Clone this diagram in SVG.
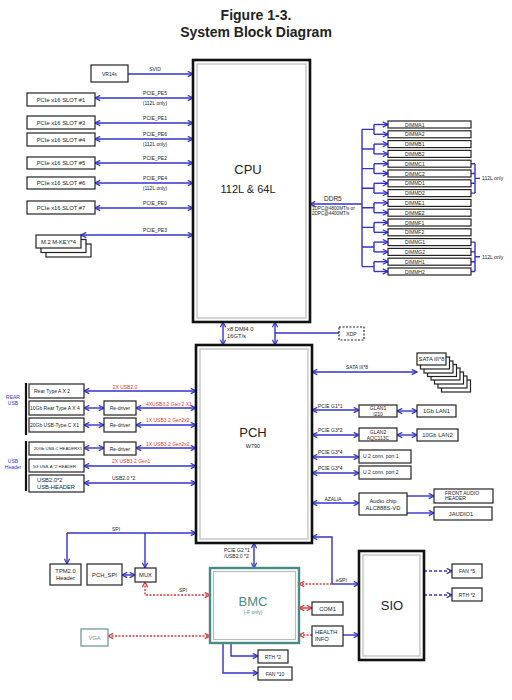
<svg xmlns="http://www.w3.org/2000/svg" width="512" height="700" viewBox="0 0 512 700">
<style>
text{font-family:"Liberation Sans",Arial,sans-serif;fill:#222}
.t{font-size:14px;font-weight:bold;text-anchor:middle}
.s{font-size:5px}
.m{font-size:5.8px}
.c{text-anchor:middle}
.r{fill:#e03535}
.bl{fill:#3333cc}
.box{fill:#fff;stroke:#222;stroke-width:1.2}
.big{fill:#fff;stroke:#111;stroke-width:2.6}
.inn{fill:none;stroke:#bbb;stroke-width:1.2}
.ln{fill:none;stroke:#3333cc;stroke-width:1.4}
.lnd{fill:none;stroke:#3333cc;stroke-width:1.4;stroke-dasharray:3 2}
.rd{fill:none;stroke:#e03535;stroke-width:1.4;stroke-dasharray:2 1.5}
.rs{fill:none;stroke:#e03535;stroke-width:1.4}
.ar{marker-end:url(#ab)}
.da{marker-start:url(#ab);marker-end:url(#ab)}
.arr{marker-end:url(#ar)}
.dar{marker-start:url(#ar);marker-end:url(#ar)}
</style>
<defs>
<marker id="ab" viewBox="0 0 8 8" refX="7" refY="4" markerWidth="7" markerHeight="7" markerUnits="userSpaceOnUse" orient="auto-start-reverse"><path d="M1,1 L7,4 L1,7" fill="none" stroke="#3333cc" stroke-width="1.4"/></marker>
<marker id="ar" viewBox="0 0 8 8" refX="7" refY="4" markerWidth="7" markerHeight="7" markerUnits="userSpaceOnUse" orient="auto-start-reverse"><path d="M1,1 L7,4 L1,7" fill="none" stroke="#e03535" stroke-width="1.4"/></marker>
</defs>
<rect width="512" height="700" fill="#fff"/>
<text class="t" x="256" y="20">Figure 1-3.</text>
<text class="t" x="256" y="37">System Block Diagram</text>

<g id="connectors">
<path class="ln ar" d="M128,74 H193"/>
<path class="ln da" d="M95,98 H193"/>
<path class="ln da" d="M95,123 H193"/>
<path class="ln da" d="M95,139 H193"/>
<path class="ln da" d="M95,163 H193"/>
<path class="ln da" d="M95,183 H193"/>
<path class="ln da" d="M95,208 H193"/>
<path class="ln da" d="M81,235 H193"/>
<path class="ln" d="M362,204 H310" marker-end="url(#ab)"/>
<path class="ln" d="M362,129.4 V266.6"/>
<path class="ln" d="M362,129.4 H374 M374,124.5 V134.3 M362,149 H374 M374,144.1 V153.9 M362,168.6 H374 M374,163.7 V173.5 M362,188.2 H374 M374,183.3 V193.1 M362,207.8 H374 M374,202.9 V212.7 M362,227.4 H374 M374,222.5 V232.3 M362,247 H374 M374,242.1 V251.9 M362,266.6 H374 M374,261.7 V271.5"/>
<path class="ln ar" d="M374,124.5 H388"/><path class="ln ar" d="M374,134.3 H388"/>
<path class="ln ar" d="M374,144.1 H388"/><path class="ln ar" d="M374,153.9 H388"/>
<path class="ln ar" d="M374,163.7 H388"/><path class="ln ar" d="M374,173.5 H388"/>
<path class="ln ar" d="M374,183.3 H388"/><path class="ln ar" d="M374,193.1 H388"/>
<path class="ln ar" d="M374,202.9 H388"/><path class="ln ar" d="M374,212.7 H388"/>
<path class="ln ar" d="M374,222.5 H388"/><path class="ln ar" d="M374,232.3 H388"/>
<path class="ln ar" d="M374,242.1 H388"/><path class="ln ar" d="M374,251.9 H388"/>
<path class="ln ar" d="M374,261.7 H388"/><path class="ln ar" d="M374,271.5 H388"/>
<path class="ln" d="M471,163.7 H475 M471,173.5 H475 M471,183.3 H475 M471,193.1 H475 M475,163.7 V193.1 M475,178.4 H480"/>
<path class="ln" d="M471,242.1 H475 M471,251.9 H475 M471,261.7 H475 M471,271.5 H475 M475,242.1 V271.5 M475,256.8 H480"/>
<path class="ln da" d="M223,322 V345"/>
<path class="ln da" d="M275,322 V345"/>
<path class="ln" d="M275,333 H339"/>
<path class="ln da" d="M84,391 H196"/>
<path class="ln da" d="M84,408 H104"/><path class="ln da" d="M136,408 H196"/>
<path class="ln da" d="M84,425 H104"/><path class="ln da" d="M136,425 H196"/>
<path class="ln da" d="M84,448 H104"/><path class="ln da" d="M136,448 H196"/>
<path class="ln da" d="M84,466 H196"/>
<path class="ln da" d="M84,483 H196"/>
<path class="ln da" d="M312,372 H417"/>
<path class="ln da" d="M312,410 H359"/><path class="ln da" d="M397,411 H417"/>
<path class="ln da" d="M312,435 H359"/><path class="ln da" d="M397,435 H417"/>
<path class="ln da" d="M312,457 H359"/>
<path class="ln da" d="M312,473 H359"/>
<path class="ln da" d="M312,503 H359"/>
<path class="ln ar" d="M407,496 H434"/>
<path class="ln ar" d="M407,513 H434"/>
<path class="ln ar" d="M67,533 H196"/>
<path class="ln ar" d="M67,533 V564"/>
<path class="ln ar" d="M145,533 V568"/>
<path class="ln da" d="M122,575 H135"/>
<path class="rd dar" d="M145,582 V595 H210"/>
<path class="rd dar" d="M108,636 H210"/>
<path class="ln da" d="M254,543 V568"/>
<path class="ln" d="M332,584 V537 H312" marker-end="url(#ab)"/>
<path class="ln ar" d="M332,584 H359"/>
<path class="rd arr" d="M332,584 H299"/>
<path class="rs dar" d="M299,608 H312"/>
<path class="rd arr" d="M312,635 H299"/>
<path class="ln ar" d="M343,635 H359"/>
<path class="ln ar" d="M231,643 V656 H258"/>
<path class="ln ar" d="M223,643 V673 H258"/>
<path class="lnd ar" d="M424,571 H452"/>
<path class="lnd ar" d="M424,595 H452"/>
<path d="M26,383 V435 M26,441 V491" stroke="#111" stroke-width="2.2"/>
</g>
<g id="connector-labels">
<text class="s c" x="155" y="71">SVID</text>
<text class="s c" x="155" y="95">PCIE_PE5</text><text class="s c" x="155" y="105">(112L only)</text>
<text class="s c" x="155" y="120">PCIE_PE1</text>
<text class="s c" x="155" y="136">PCIE_PE6</text><text class="s c" x="155" y="146">(112L only)</text>
<text class="s c" x="155" y="160">PCIE_PE2</text>
<text class="s c" x="155" y="180">PCIE_PE4</text><text class="s c" x="155" y="190">(112L only)</text>
<text class="s c" x="155" y="205">PCIE_PE0</text>
<text class="s c" x="155" y="232">PCIE_PE3</text>
<text class="m" x="324" y="201" style="font-size:6.5px">DDR5</text>
<text class="s" x="312" y="210" style="font-size:4.6px">1DPC@4800MT/s or</text>
<text class="s" x="312" y="215" style="font-size:4.6px">2DPC@4400MT/s</text>
<text class="s" x="482" y="180">112L only</text>
<text class="s" x="482" y="258.5">112L only</text>
<text class="m" x="227" y="331">x8 DMI4.0</text>
<text class="m" x="227" y="338">16GT/s</text>
<text class="s r c" x="125" y="389">2X USB2.0</text>
<text class="s r" x="146" y="406">4XUSB3.2 Gen 2 X1</text>
<text class="s r" x="146" y="422">1X USB3.2 Gen2x2</text>
<text class="s r" x="146" y="446">1X USB3.2 Gen2x2</text>
<text class="s r" x="112" y="463">2X USB3.2 Gen1</text>
<text class="s" x="112" y="480">USB2.0 *2</text>
<text class="s bl c" x="13" y="399">REAR</text><text class="s bl c" x="13" y="405">USB</text>
<text class="s bl c" x="13" y="463">USB</text><text class="s bl c" x="13" y="469">Header</text>
<text class="s c" x="357" y="369">SATA III*8</text>
<text class="s" x="318" y="408">PCIE G1*1</text>
<text class="s" x="318" y="432">PCIE G3*2</text>
<text class="s" x="318" y="454">PCIE G3*4</text>
<text class="s" x="318" y="470">PCIE G3*4</text>
<text class="s c" x="333" y="501">AZALIA</text>
<text class="s c" x="116" y="531">SPI</text>
<text class="s c" x="183" y="592">SPI</text>
<text class="s" x="224" y="552">PCIE G2 *1</text>
<text class="s" x="224" y="558">/USB2.0 *2</text>
<text class="s" x="336" y="582">eSPI</text>
</g>

<g id="cpu"><rect class="big" x="193" y="60" width="117" height="262"/><rect class="inn" x="197" y="64" width="109" height="254"/>
<text x="248" y="174" class="c" style="font-size:13px">CPU</text><text x="248" y="193" class="c" style="font-size:11px">112L &amp; 64L</text></g>
<g id="vr14s"><rect class="box" x="91" y="65" width="37" height="17"/><text class="s c" x="109.5" y="75.5">VR14s</text></g>
<g id="slot1"><rect class="box" x="27" y="93" width="68" height="13"/><text class="m c" x="61" y="101.5">PCIe x16 SLOT #1</text></g>
<g id="slot3"><rect class="box" x="27" y="116" width="68" height="13"/><text class="m c" x="61" y="124.5">PCIe x16 SLOT #3</text></g>
<g id="slot4"><rect class="box" x="27" y="133" width="68" height="13"/><text class="m c" x="61" y="141.5">PCIe x16 SLOT #4</text></g>
<g id="slot5"><rect class="box" x="27" y="157" width="68" height="12"/><text class="m c" x="61" y="165">PCIe x16 SLOT #5</text></g>
<g id="slot6"><rect class="box" x="27" y="177" width="68" height="12"/><text class="m c" x="61" y="185">PCIe x16 SLOT #6</text></g>
<g id="slot7"><rect class="box" x="27" y="201" width="68" height="13"/><text class="m c" x="61" y="209.5">PCIe x16 SLOT #7</text></g>
<g id="m2"><rect class="box" x="46" y="244" width="45" height="13"/><rect class="box" x="41" y="239.5" width="45" height="13"/><rect class="box" x="36" y="235" width="45" height="13"/><text class="m c" x="58.5" y="243.5">M.2 M-KEY*4</text></g>
<g id="dimms">
<rect class="box" x="388" y="121" width="83" height="7"/><text class="s" x="405" y="126.5">DIMMA1</text>
<rect class="box" x="388" y="130.8" width="83" height="7"/><text class="s" x="405" y="136.3">DIMMA2</text>
<rect class="box" x="388" y="140.6" width="83" height="7"/><text class="s" x="405" y="146.1">DIMMB1</text>
<rect class="box" x="388" y="150.4" width="83" height="7"/><text class="s" x="405" y="155.9">DIMMB2</text>
<rect class="box" x="388" y="160.2" width="83" height="7"/><text class="s" x="405" y="165.7">DIMMC1</text>
<rect class="box" x="388" y="170" width="83" height="7"/><text class="s" x="405" y="175.5">DIMMC2</text>
<rect class="box" x="388" y="179.8" width="83" height="7"/><text class="s" x="405" y="185.3">DIMMD1</text>
<rect class="box" x="388" y="189.6" width="83" height="7"/><text class="s" x="405" y="195.1">DIMMD2</text>
<rect class="box" x="388" y="199.4" width="83" height="7"/><text class="s" x="405" y="204.9">DIMME1</text>
<rect class="box" x="388" y="209.2" width="83" height="7"/><text class="s" x="405" y="214.7">DIMME2</text>
<rect class="box" x="388" y="219" width="83" height="7"/><text class="s" x="405" y="224.5">DIMMF1</text>
<rect class="box" x="388" y="228.8" width="83" height="7"/><text class="s" x="405" y="234.3">DIMMF2</text>
<rect class="box" x="388" y="238.6" width="83" height="7"/><text class="s" x="405" y="244.1">DIMMG1</text>
<rect class="box" x="388" y="248.4" width="83" height="7"/><text class="s" x="405" y="253.9">DIMMG2</text>
<rect class="box" x="388" y="258.2" width="83" height="7"/><text class="s" x="405" y="263.7">DIMMH1</text>
<rect class="box" x="388" y="268" width="83" height="7"/><text class="s" x="405" y="273.5">DIMMH2</text>
</g>
<g id="xdp"><rect x="339" y="327" width="25" height="13" fill="#fff" stroke="#222" stroke-width="1.2" stroke-dasharray="2 1.5"/><text class="s c" x="351.5" y="335.5">XDP</text></g>
<g id="pch"><rect class="big" x="196" y="345" width="116" height="198"/><rect class="inn" x="200" y="349" width="108" height="190"/>
<text x="253" y="437" class="c" style="font-size:13px">PCH</text><text x="253" y="448" class="c s" style="font-size:5.5px">W790</text></g>
<g id="rear-a"><rect class="box" x="29" y="384" width="55" height="14"/><text class="s" x="34" y="393">Rear Type A X 2</text></g>
<g id="rear-10g"><rect class="box" x="29" y="401" width="55" height="14"/><text class="s" x="30" y="410">10Gb Rear Type A X 4</text></g>
<g id="typec"><rect class="box" x="29" y="418" width="55" height="14"/><text class="s" x="30" y="427">20Gb USB-Type C X1</text></g>
<g id="usbc-hdr"><rect class="box" x="29" y="442" width="55" height="13"/><text class="s" x="34" y="450" style="font-size:4.2px">20Gb USB-C HEADERX1</text></g>
<g id="usba-hdr"><rect class="box" x="29" y="459" width="55" height="13"/><text class="s" x="33" y="467.5" style="font-size:4.2px">5G USB-A *2 HEADER</text></g>
<g id="usb2-hdr"><rect class="box" x="29" y="475" width="55" height="17"/><text class="m" x="37" y="482">USB2.0*2</text><text class="m" x="37" y="489">USB-HEADER</text></g>
<g id="redriver1"><rect class="box" x="104" y="401" width="32" height="14"/><text class="s c" x="120" y="410">Re-driver</text></g>
<g id="redriver2"><rect class="box" x="104" y="418" width="32" height="14"/><text class="s c" x="120" y="427">Re-driver</text></g>
<g id="redriver3"><rect class="box" x="104" y="442" width="32" height="13"/><text class="s c" x="120" y="450.5">Re-driver</text></g>
<g id="sata">
<rect class="box" x="441.5" y="380" width="29" height="12"/><rect class="box" x="438" y="376" width="29" height="12"/><rect class="box" x="434.5" y="372" width="29" height="12"/><rect class="box" x="431" y="368" width="29" height="12"/><rect class="box" x="427.5" y="364.5" width="29" height="12"/><rect class="box" x="424" y="361" width="29" height="12"/><rect class="box" x="420.5" y="357" width="29" height="12"/><rect class="box" x="417" y="353" width="29" height="12"/>
<text class="m c" x="431.5" y="361">SATA III*8</text></g>
<g id="glan1"><rect class="box" x="359" y="405" width="38" height="12"/><text class="s c" x="378" y="410">GLAN1</text><text class="s c" x="378" y="415.5">I210</text></g>
<g id="lan1"><rect class="box" x="417" y="405" width="39" height="12"/><text class="m c" x="436.5" y="413">1Gb LAN1</text></g>
<g id="glan2"><rect class="box" x="359" y="428" width="38" height="13"/><text class="s c" x="378" y="433.5">GLAN2</text><text class="s c" x="378" y="439.5">AQC113C</text></g>
<g id="lan2"><rect class="box" x="417" y="429" width="41" height="12"/><text class="m c" x="437.5" y="437">10Gb LAN2</text></g>
<g id="u2p1"><rect class="box" x="359" y="450" width="52" height="13"/><text class="s" x="363" y="458">U.2 conn. port 1</text></g>
<g id="u2p2"><rect class="box" x="359" y="466" width="52" height="13"/><text class="s" x="363" y="474">U.2 conn. port 2</text></g>
<g id="audio"><rect class="box" x="359" y="493" width="48" height="22"/><text class="m c" x="383" y="502.5">Audio chip</text><text class="m c" x="383" y="509.5">ALC888S-VD</text></g>
<g id="front-audio"><rect class="box" x="434" y="489" width="59" height="14"/><text class="s" x="445" y="494.5">FRONT AUDIO</text><text class="s" x="445" y="500">HEADER</text></g>
<g id="jaudio"><rect class="box" x="434" y="507" width="58" height="13"/><text class="m c" x="461" y="515.5">JAUDIO1</text></g>
<g id="tpm"><rect class="box" x="50" y="564" width="31" height="21"/><text class="m c" x="65.5" y="573">TPM2.0</text><text class="m c" x="65.5" y="580">Header</text></g>
<g id="pch-spi"><rect class="box" x="87" y="564" width="35" height="21"/><text class="m c" x="104.5" y="577">PCH_SPI</text></g>
<g id="mux"><rect class="box" x="135" y="568" width="21" height="14"/><text class="m c" x="145.5" y="577">MUX</text></g>
<g id="vga"><rect x="81" y="629" width="27" height="17" fill="#fff" stroke="#7aa3a0" stroke-width="1.4"/><text class="m c" x="94.5" y="639.5" style="fill:#7aa3a0">VGA</text></g>
<g id="bmc"><rect x="210" y="568" width="89" height="75" fill="#fff" stroke="#4a8a86" stroke-width="2.4"/><rect class="inn" x="213.5" y="571.5" width="82" height="68"/>
<text x="253" y="606" class="c" style="font-size:13px;fill:#4a8a86">BMC</text><text x="253" y="614" class="c s" style="fill:#4a8a86">(-F only)</text></g>
<g id="com1"><rect class="box" x="312" y="602" width="31" height="13"/><text class="m c" x="327.5" y="610.5">COM1</text></g>
<g id="health"><rect class="box" x="312" y="626" width="31" height="20"/><text class="m" x="315" y="634">HEALTH</text><text class="m" x="315" y="640.5">INFO</text></g>
<g id="sio"><rect class="big" x="359" y="551" width="65" height="109"/><rect class="inn" x="363" y="555" width="57" height="101"/><text x="392" y="610" class="c" style="font-size:13px">SIO</text></g>
<g id="fan5"><rect class="box" x="452" y="564" width="30" height="14"/><text class="s c" x="467" y="573">FAN *5</text></g>
<g id="rth2b"><rect class="box" x="452" y="588" width="30" height="13"/><text class="s c" x="467" y="596.5">RTH *2</text></g>
<g id="rth2"><rect class="box" x="258" y="650" width="30" height="13"/><text class="s c" x="273" y="658.5">RTH *2</text></g>
<g id="fan10"><rect class="box" x="258" y="667" width="34" height="13"/><text class="s c" x="275" y="675.5">FAN *10</text></g>
</svg>
